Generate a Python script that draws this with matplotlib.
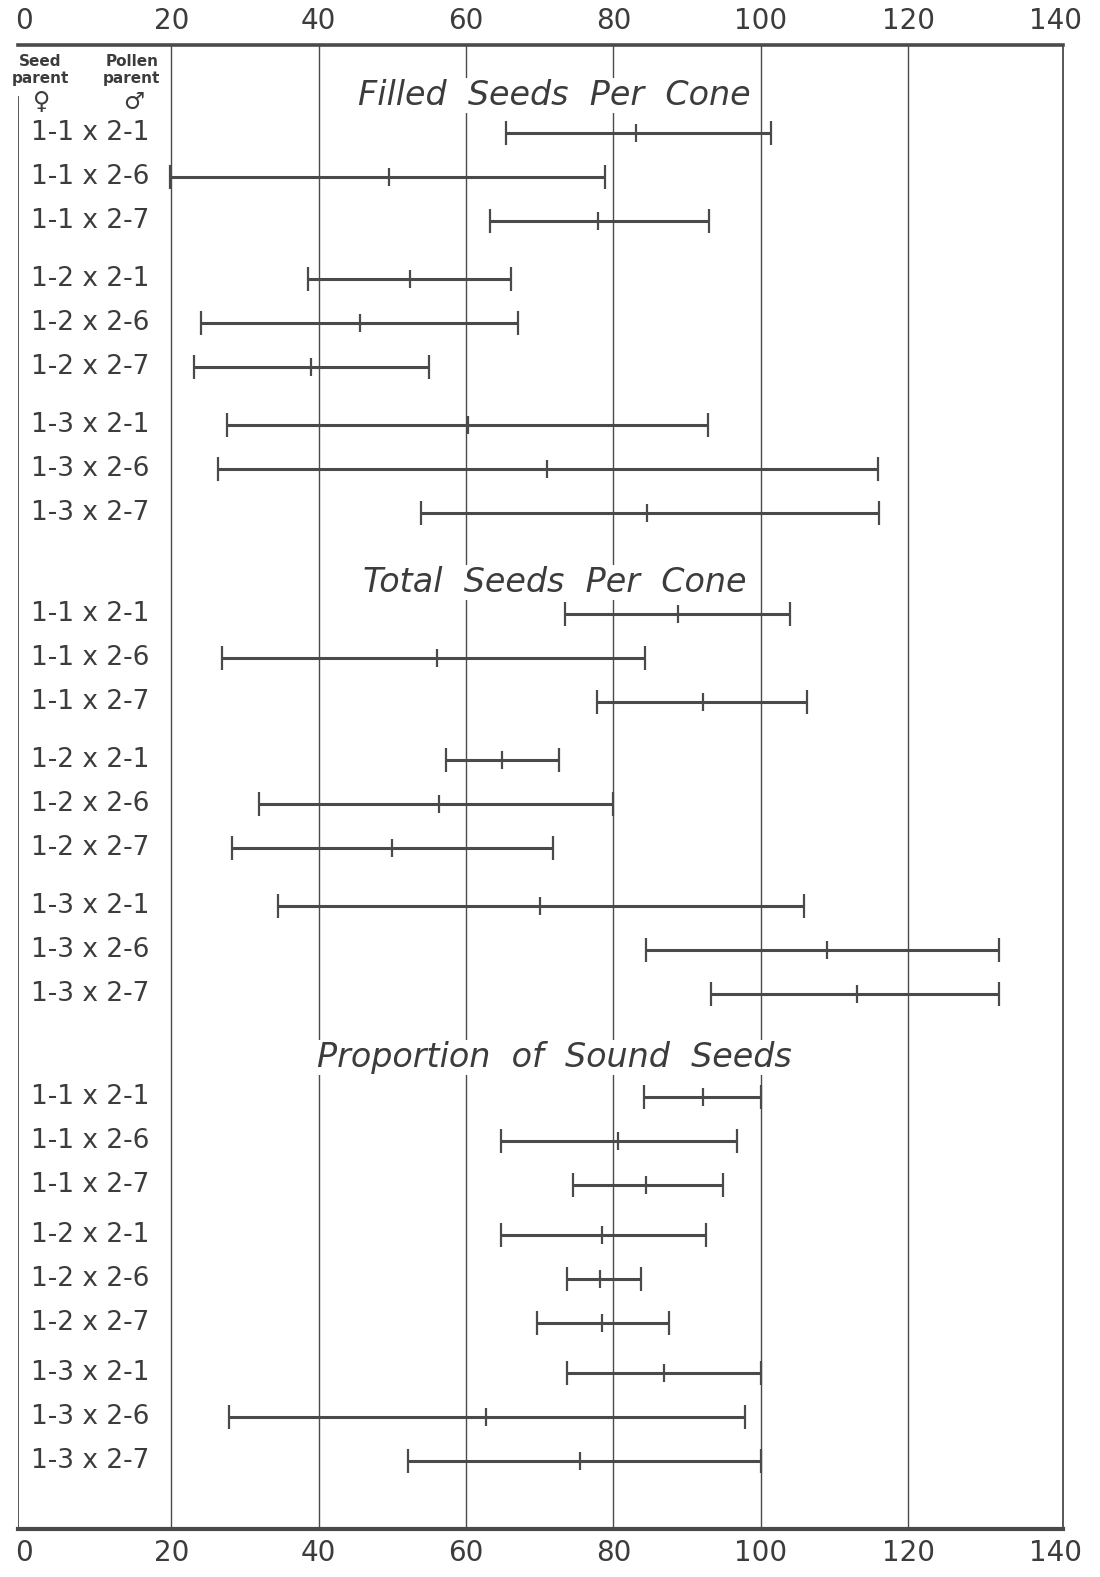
import matplotlib.pyplot as plt

# crosses: seed parent x pollen parent
crosses = ['1-1 x 2-1', '1-1 x 2-6', '1-1 x 2-7',
           '1-2 x 2-1', '1-2 x 2-6', '1-2 x 2-7',
           '1-3 x 2-1', '1-3 x 2-6', '1-3 x 2-7']

section_titles = ['Filled  Seeds  Per  Cone',
                  'Total  Seeds  Per  Cone',
                  'Proportion  of  Sound  Seeds']

# low / mean / high
filled_low = [65.4, 19.8, 63.3, 38.6, 24.0, 23.1, 27.6, 26.3, 53.9]
filled_mid = [83.1, 49.5, 77.9, 52.4, 45.6, 39.0, 60.3, 71.0, 84.6]
filled_high = [101.4, 78.9, 92.9, 66.1, 67.1, 55.0, 92.8, 115.9, 116.0]

total_low = [73.4, 26.9, 77.7, 57.3, 31.9, 28.2, 34.5, 84.4, 93.2]
total_mid = [88.8, 56.0, 92.1, 64.9, 56.3, 50.0, 70.0, 109.0, 113.1]
total_high = [104.0, 84.3, 106.2, 72.6, 80.0, 71.8, 105.9, 132.3, 132.3]

sound_low = [84.2, 64.8, 74.5, 64.7, 73.7, 69.6, 73.7, 27.8, 52.1]
sound_mid = [92.1, 80.6, 84.4, 78.5, 78.2, 78.5, 86.8, 62.7, 75.5]
sound_high = [100.0, 96.8, 94.8, 92.6, 83.7, 87.6, 100.0, 97.8, 100.0]

xticks = [0, 20, 40, 60, 80, 100, 120, 140]

sections = [(filled_low, filled_mid, filled_high),
            (total_low, total_mid, total_high),
            (sound_low, sound_mid, sound_high)]

# layout (vertical units = pixels below the top border)
title_base = [60, 547, 1022]
first_off = [28, 22, 30]
row_step = [44, 44, 44]
group_gap = [14, 14, 6]

ink = '#4a4a4a'
txt = '#3c3c3c'
W, H = 1100, 1577
fig = plt.figure(figsize=(W / 100, H / 100), dpi=100)
ax = fig.add_axes([18 / W, 1 - 1529 / H, 1045 / W, 1484 / H])
ax.set_xlim(-0.8, 141)
ax.set_ylim(1484, 0)

for xv in xticks[1:-1]:
    ax.axvline(xv, color=ink, lw=1.0, zorder=1)

for s, (lo, mid, hi) in enumerate(sections):
    ax.text(72, title_base[s], section_titles[s], fontsize=24, style='italic',
            color=txt, ha='center', va='baseline', zorder=3,
            bbox=dict(facecolor='white', edgecolor='none', pad=1))
    for i, name in enumerate(crosses):
        y = title_base[s] + first_off[s] + i * row_step[s] + (i // 3) * group_gap[s]
        ax.errorbar(mid[i], y, xerr=[[mid[i] - lo[i]], [hi[i] - mid[i]]],
                    fmt='|', ms=13, mew=1.6, color=ink, ecolor=ink,
                    elinewidth=2.2, capsize=8.5, capthick=1.8, zorder=4)
        ax.text(0.012, y, name, transform=ax.get_yaxis_transform(),
                fontsize=19, color=txt, ha='left', va='center')

# header of the label column
ax.text(0.021, 25, 'Seed\nparent', transform=ax.get_yaxis_transform(),
        fontsize=11, fontweight='bold', color=txt, ha='center',
        va='center', linespacing=1.15)
ax.text(0.109, 25, 'Pollen\nparent', transform=ax.get_yaxis_transform(),
        fontsize=11, fontweight='bold', color=txt, ha='center',
        va='center', linespacing=1.15)
ax.text(0.023, 57, '\u2640', transform=ax.get_yaxis_transform(),
        fontsize=17, color=txt, ha='center', va='center')
ax.text(0.111, 57, '\u2642', transform=ax.get_yaxis_transform(),
        fontsize=17, color=txt, ha='center', va='center')

# frame: heavy top and bottom, left line starts below the header
ax.spines['left'].set_visible(False)
ax.spines['top'].set_linewidth(2.6)
ax.spines['bottom'].set_linewidth(3.0)
ax.spines['right'].set_linewidth(1.3)
for sp in ax.spines.values():
    sp.set_color(ink)
ax.axvline(ax.get_xlim()[0] + 0.05, ymin=0, ymax=1 - 52 / 1484,
           color=ink, lw=1.3)

ax.set_yticks([])
ax.set_xticks(xticks)
ax.set_xticklabels([str(v) for v in xticks])
ax.tick_params(axis='x', length=0, labelsize=20, labelcolor=txt,
               top=True, labeltop=True, pad=7)

fig.savefig('out.png', dpi=100, facecolor='white')
